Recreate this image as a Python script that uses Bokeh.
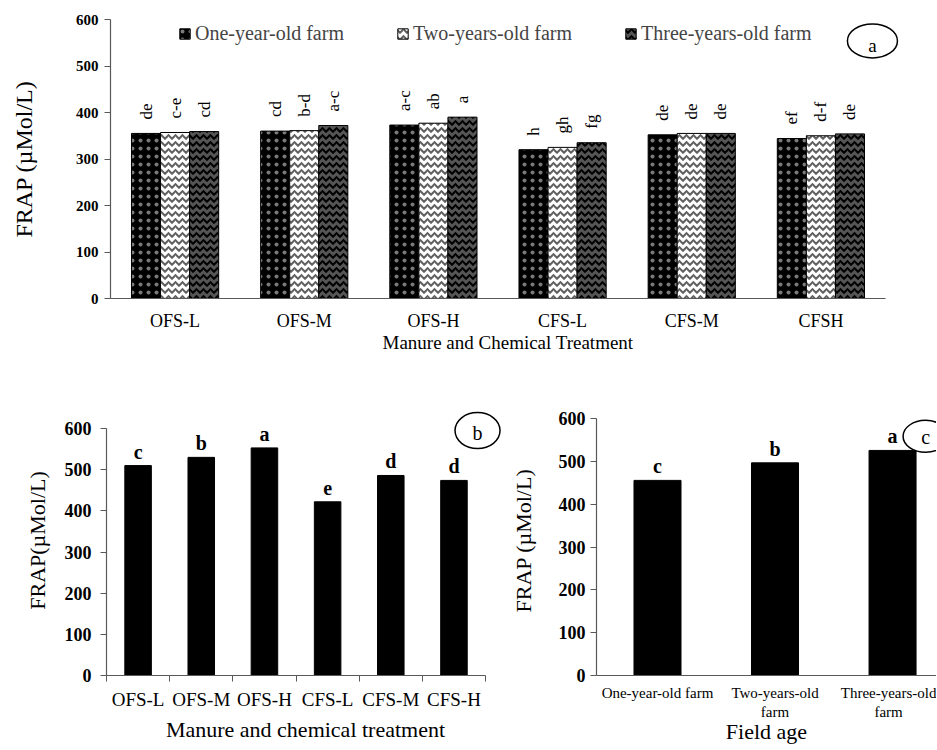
import numpy as np
from bokeh.plotting import figure
from bokeh.models import ColumnDataSource, FixedTicker, Range1d
from bokeh.layouts import column, row
from bokeh.core.properties import value
from bokeh.embed import file_html
from bokeh.resources import INLINE

# ---------------- data ----------------
treatments_a = ["OFS-L", "OFS-M", "OFS-H", "CFS-L", "CFS-M", "CFSH"]
series_names = ["One-year-old farm", "Two-years-old farm", "Three-years-old farm"]
one_year = [355, 360, 373, 320, 352, 344]
two_years = [357, 361, 377, 325, 355, 350]
three_years = [359, 372, 390, 335, 355, 354]
letters_one = ["de", "cd", "a-c", "h", "de", "ef"]
letters_two = ["c-e", "b-d", "ab", "gh", "de", "d-f"]
letters_three = ["cd", "a-c", "a", "fg", "de", "de"]

treatments_b = ["OFS-L", "OFS-M", "OFS-H", "CFS-L", "CFS-M", "CFS-H"]
frap_b = [510, 530, 553, 422, 486, 474]
letters_b = ["c", "b", "a", "e", "d", "d"]

ages_c = ["One-year-old farm", "Two-years-old\nfarm", "Three-years-old\nfarm"]
frap_c = [456, 497, 526]
letters_c = ["c", "b", "a"]

y_ticks = [0, 100, 200, 300, 400, 500, 600]

SERIF = "Liberation Serif"
AXC = "#595959"


def base_style(p):
    p.outline_line_color = None
    p.grid.visible = False
    for ax in (p.xaxis[0], p.yaxis[0]):
        ax.axis_line_color = AXC
        ax.axis_line_width = 1.2
        ax.major_tick_line_color = AXC
        ax.minor_tick_line_color = None
        ax.major_label_text_font = SERIF
        ax.axis_label_text_font = SERIF
        ax.axis_label_text_font_style = "normal"
        ax.major_label_text_color = "black"
        ax.axis_label_text_color = "black"
    p.yaxis[0].ticker = FixedTicker(ticks=y_ticks)
    p.yaxis[0].bounds = (0, 600)
    p.yaxis[0].major_tick_in = 0
    p.yaxis[0].major_tick_out = 6
    p.yaxis[0].major_label_text_font_style = "bold"


# ---------------- panel a ----------------
xa = np.arange(len(treatments_a))
p1 = figure(width=936, height=380, x_range=Range1d(-0.5, 5.655), y_range=Range1d(0, 600),
            output_backend="svg", toolbar_location=None,
            min_border_left=110, min_border_right=31, min_border_top=19, min_border_bottom=82)
base_style(p1)

styles = [
    dict(fill_color="black", hatch_pattern="dot", hatch_color="#7a7a7a", hatch_scale=8, hatch_weight=1.5),
    dict(fill_color="white", hatch_pattern="horizontal_wave", hatch_color="#606060", hatch_scale=7, hatch_weight=2),
    dict(fill_color="#555555", hatch_pattern="horizontal_wave", hatch_color="black", hatch_scale=7, hatch_weight=2),
]
offsets = [-0.225, 0.0, 0.225]
for name, vals, lets, off, sty in zip(series_names, [one_year, two_years, three_years],
                                      [letters_one, letters_two, letters_three], offsets, styles):
    src = ColumnDataSource(dict(x=(xa + off).tolist(), top=vals, lab=lets))
    p1.vbar(x="x", top="top", width=0.225, source=src, line_color="black", line_width=1,
            legend_label=name, **sty)
    p1.text(x="x", y="top", text="lab", source=src, angle=np.pi / 2, text_align="left",
            text_baseline="middle", y_offset=-14, text_font=value(SERIF), text_font_size="17px",
            text_color="black")

xax = p1.xaxis[0]
xax.ticker = FixedTicker(ticks=xa.tolist())
xax.major_label_overrides = {int(i): t for i, t in zip(xa, treatments_a)}
xax.major_tick_out = 0
xax.major_tick_in = 0
xax.bounds = (-0.5, 5.5)
xax.major_label_text_font_size = "18px"
xax.major_label_standoff = 12
xax.axis_label = "Manure and Chemical Treatment"
xax.axis_label_text_font_size = "19px"
xax.axis_label_standoff = -2

yax = p1.yaxis[0]
yax.major_label_text_font_size = "15px"
yax.major_label_standoff = 6
yax.axis_label = "FRAP (µMol/L)"
yax.axis_label_text_font_size = "24px"
yax.axis_label_standoff = 36

lg = p1.legend[0]
lg.orientation = "horizontal"
lg.location = (68, 253)
lg.padding = 0
lg.margin = 0
lg.spacing = 52
lg.label_standoff = 4
lg.glyph_width = 13
lg.glyph_height = 13
lg.border_line_color = None
lg.background_fill_alpha = 0
lg.label_text_font = SERIF
lg.label_text_font_size = "20px"

p1.ellipse(x=[5.399], y=[554], width=50, height=34, width_units="screen", height_units="screen",
           fill_color=None, line_color="black", line_width=1.5)
p1.text(x=[5.399], y=[554], text=["a"], text_align="center", text_baseline="middle", y_offset=5,
        text_font=value(SERIF), text_font_size="19px", text_color="black")

# ---------------- panel b ----------------
xb = np.arange(len(treatments_b))
p2 = figure(width=505, height=369, x_range=Range1d(-0.5, 5.80), y_range=Range1d(0, 656),
            output_backend="svg", toolbar_location=None,
            min_border_left=106, min_border_right=1, min_border_top=25, min_border_bottom=74)
base_style(p2)
p2.vbar(x=xb.tolist(), top=frap_b, width=0.42, fill_color="black", line_color="black")
p2.text(x=xb.tolist(), y=frap_b, text=letters_b, text_align="center", text_baseline="alphabetic",
        y_offset=-14, text_font=value(SERIF), text_font_size="20px", text_font_style="bold",
        text_color="black")
bx = p2.xaxis[0]
bx.ticker = FixedTicker(ticks=xb.tolist(), minor_ticks=[i - 0.5 for i in range(len(treatments_b) + 1)])
bx.major_label_overrides = {int(i): t for i, t in zip(xb, treatments_b)}
bx.major_tick_out = 6
bx.major_tick_in = 0
bx.major_tick_line_color = None
bx.minor_tick_out = 6
bx.minor_tick_in = 0
bx.minor_tick_line_color = AXC
bx.bounds = (-0.5, 5.5)
bx.major_label_text_font_size = "19px"
bx.major_label_standoff = 7
bx.axis_label = "Manure and chemical treatment"
bx.axis_label_text_font_size = "22px"
bx.axis_label_standoff = 4
by = p2.yaxis[0]
by.major_label_text_font_size = "18px"
by.major_label_standoff = 9
by.axis_label = "FRAP(µMol/L)"
by.axis_label_text_font_size = "22px"
by.axis_label_standoff = 12
p2.ellipse(x=[5.373], y=[595], width=45, height=36, width_units="screen", height_units="screen",
           fill_color=None, line_color="black", line_width=1.5)
p2.text(x=[5.373], y=[595], text=["b"], text_align="center", text_baseline="middle", y_offset=2,
        text_font=value(SERIF), text_font_size="20px", text_color="black")

# ---------------- panel c ----------------
xc = np.arange(len(ages_c))
p3 = figure(width=431, height=369, x_range=Range1d(-0.519, 2.374), y_range=Range1d(0, 631),
            output_backend="svg", toolbar_location=None,
            min_border_left=91, min_border_right=0, min_border_top=25, min_border_bottom=74)
base_style(p3)
p3.vbar(x=xc.tolist(), top=frap_c, width=0.4, fill_color="black", line_color="black")
p3.text(x=xc.tolist(), y=frap_c, text=letters_c, text_align="center", text_baseline="alphabetic",
        y_offset=-14, text_font=value(SERIF), text_font_size="20px", text_font_style="bold",
        text_color="black")
cx = p3.xaxis[0]
cx.ticker = FixedTicker(ticks=xc.tolist())
cx.major_label_overrides = {int(i): t for i, t in zip(xc, ages_c)}
cx.major_tick_out = 0
cx.major_tick_in = 0
cx.major_label_text_font_size = "15px"
cx.major_label_standoff = 9
cx.axis_label = "Field age"
cx.axis_label_text_font_size = "22px"
cx.axis_label_standoff = -4
cy = p3.yaxis[0]
cy.major_label_text_font_size = "18px"
cy.major_label_standoff = 5
cy.axis_label = "FRAP (µMol/L)"
cy.axis_label_text_font_size = "22px"
cy.axis_label_standoff = 20
p3.ellipse(x=[2.281], y=[559], width=45, height=32, width_units="screen", height_units="screen",
           fill_color=None, line_color="black", line_width=1.5)
p3.text(x=[2.281], y=[559], text=["c"], text_align="center", text_baseline="middle", y_offset=1,
        text_font=value(SERIF), text_font_size="20px", text_color="black")

layout = column(p1, row(p2, p3))
open("out.html", "w").write(file_html(layout, INLINE))
